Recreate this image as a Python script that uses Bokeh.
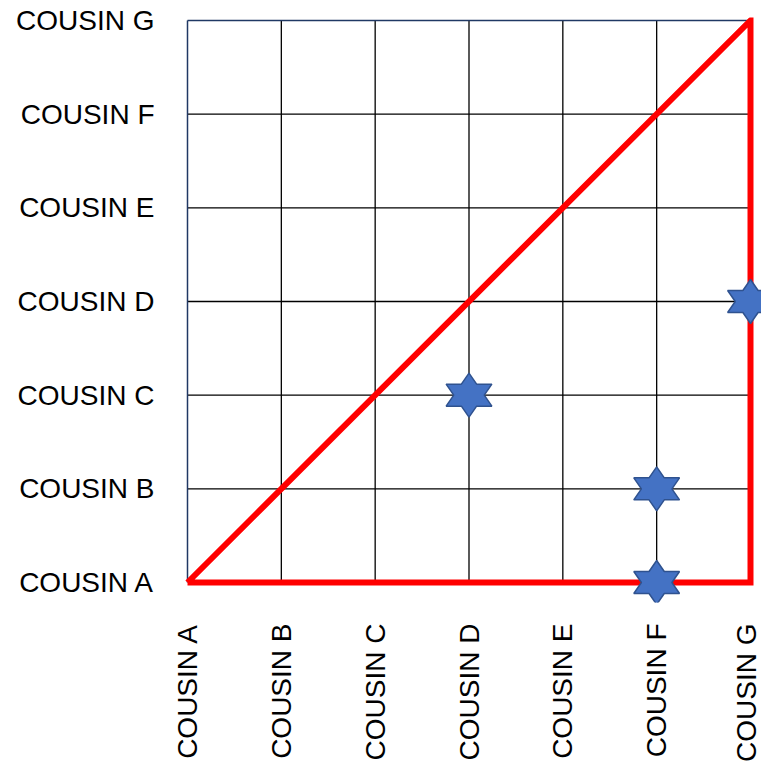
import math
from bokeh.plotting import figure
from bokeh.models import Range1d, FixedTicker
from bokeh.embed import file_html
from bokeh.resources import INLINE

# ---- data ----
cousins = ["COUSIN A", "COUSIN B", "COUSIN C", "COUSIN D", "COUSIN E", "COUSIN F", "COUSIN G"]
star_x = ["COUSIN D", "COUSIN F", "COUSIN F", "COUSIN G"]
star_y = ["COUSIN C", "COUSIN B", "COUSIN A", "COUSIN D"]
path_x = ["COUSIN A", "COUSIN G", "COUSIN G", "COUSIN A"]
path_y = ["COUSIN A", "COUSIN G", "COUSIN A", "COUSIN A"]

idx = {c: i for i, c in enumerate(cousins)}
n = len(cousins) - 1

# ---- layout (pixels) ----
ppx = 563 / n
ppy = 562 / n
pad_l, pad_r, pad_t, pad_b = 3, 11, 3, 20

p = figure(
    width=761, height=755,
    frame_width=pad_l + 563 + pad_r, frame_height=pad_t + 562 + pad_b,
    min_border_left=184, min_border_right=0, min_border_top=17, min_border_bottom=153,
    x_range=Range1d(-pad_l / ppx, n + pad_r / ppx),
    y_range=Range1d(-pad_b / ppy, n + pad_t / ppy),
    output_backend="svg", toolbar_location=None,
)
p.outline_line_color = None
p.grid.visible = False
p.background_fill_color = "white"
p.border_fill_color = "white"

labels = {i: c for i, c in enumerate(cousins)}
for ax in (p.xaxis[0], p.yaxis[0]):
    ax.ticker = FixedTicker(ticks=list(range(len(cousins))))
    ax.major_label_overrides = labels
    ax.axis_line_color = None
    ax.major_tick_line_color = None
    ax.minor_tick_line_color = None
    ax.major_label_text_font = "Liberation Sans"
    ax.major_label_text_font_size = "28px"
    ax.major_label_text_color = "black"
p.yaxis.major_label_standoff = 24
p.xaxis.major_label_standoff = 15
p.xaxis.major_label_orientation = math.pi / 2

# ---- grid ----
ticks = list(range(len(cousins)))
inner = ticks[1:]
p.segment(x0=inner, y0=[0] * len(inner), x1=inner, y1=[n] * len(inner), line_color="black", line_width=1.3)
p.segment(x0=[0] * len(inner[:-1]), y0=inner[:-1], x1=[n] * len(inner[:-1]), y1=inner[:-1], line_color="black", line_width=1.3)
# frame edges (left, top)
p.segment(x0=[0, 0], y0=[0, n], x1=[0, n], y1=[n, n], line_color="#203864", line_width=1.5)

# ---- red path ----
p.line([idx[c] for c in path_x], [idx[c] for c in path_y], line_color="#FF0000", line_width=6, line_join="miter")

# ---- six-pointed stars ----
Ro = 22.0
Ri = Ro / math.sqrt(3)
sx = 1.2
shape = []
for k in range(12):
    ang = math.pi / 2 + k * math.pi / 6
    r = Ro if k % 2 == 0 else Ri
    shape.append((sx * r * math.cos(ang), r * math.sin(ang)))
xs, ys = [], []
for cx, cy in zip(star_x, star_y):
    x0, y0 = idx[cx], idx[cy]
    xs.append([x0 + dx / ppx for dx, dy in shape])
    ys.append([y0 + dy / ppy for dx, dy in shape])
p.patches(xs, ys, fill_color="#4472C4", line_color="#2F528F", line_width=1.5)

open("out.html", "w").write(file_html(p, INLINE))
